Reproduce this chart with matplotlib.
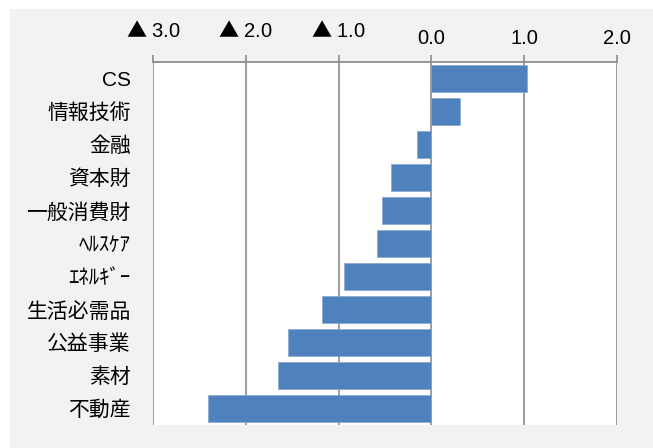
import matplotlib.pyplot as plt
import matplotlib.patches as patches
from matplotlib.transforms import ScaledTranslation

plt.rcParams['font.family'] = ['Liberation Sans', 'Noto Sans CJK JP', 'DejaVu Sans']
# big triangle glyph from the CJK font via mathtext
plt.rcParams['mathtext.fontset'] = 'custom'
plt.rcParams['mathtext.rm'] = 'Noto Sans CJK JP'

sectors = ['CS', '情報技術', '金融', '資本財', '一般消費財', 'ﾍﾙｽｹｱ',
           'ｴﾈﾙｷﾞｰ', '生活必需品', '公益事業', '素材', '不動産']
values = [1.03, 0.31, -0.15, -0.44, -0.53, -0.59, -0.94, -1.18, -1.54, -1.65, -2.41]
ticks = [-3, -2, -1, 0, 1, 2]
tick_labels = [r'$\mathrm{▲}$ 3.0', r'$\mathrm{▲}$ 2.0', r'$\mathrm{▲}$ 1.0', '0.0', '1.0', '2.0']

fig = plt.figure(figsize=(6.53, 4.48), dpi=100)
fig.patch.set_facecolor('white')
# grey chart area with a thin white margin at top/left
fig.patches.append(patches.Rectangle((10 / 653, 0), 1, (448 - 9) / 448,
                                     transform=fig.transFigure, facecolor='#f2f2f2',
                                     edgecolor='none', zorder=-10))

ax = fig.add_axes([153 / 653, 23 / 448, 464 / 653, 363 / 448])
ax.set_facecolor('white')

y = list(range(len(sectors)))
ax.barh(y, values, height=0.8, color='#4f81bd', edgecolor='#86a6d2', linewidth=0.5, zorder=3)

ax.set_ylim(len(sectors) - 0.5, -0.5)
ax.set_xlim(-3, 2)
ax.set_yticks(y)
ax.set_yticklabels(sectors, fontsize=15)
ax.tick_params(axis='y', length=0, pad=16)

ax.xaxis.tick_top()
ax.set_xticks(ticks)
ax.set_xticklabels(tick_labels, fontsize=14.5)
ax.tick_params(axis='x', direction='out', length=5, width=1.2, color='#8c8c8c', pad=5)

ax.grid(axis='x', color='#8c8c8c', linewidth=1.2, zorder=1)
ax.set_axisbelow(True)

for side in ['left', 'right', 'bottom']:
    ax.spines[side].set_visible(False)
ax.spines['top'].set_color('#8c8c8c')
ax.spines['top'].set_linewidth(1.3)

# the negative labels sit a little higher in the original
for t in ax.get_xticklabels():
    if '▲' in t.get_text():
        t.set_transform(t.get_transform() + ScaledTranslation(0, 5 / 72, fig.dpi_scale_trans))

fig.savefig('out.png', dpi=100, facecolor=fig.get_facecolor())
